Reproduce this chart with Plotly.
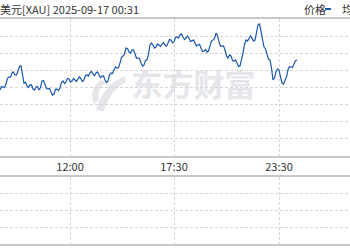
import plotly.graph_objects as go

W, H = 350, 250

# price series (USD/oz), one sample per step
prices = [
    3658.5, 3660.6, 3660.3, 3660.0, 3662.0, 3665.3, 3666.1, 3666.1, 3668.5, 3669.1,
    3667.3, 3667.3, 3669.6, 3672.3, 3672.6, 3666.0, 3662.6, 3663.0, 3660.9, 3660.0,
    3661.5, 3661.5, 3659.1, 3658.5, 3660.3, 3660.6, 3658.5, 3660.0, 3663.8, 3664.1,
    3662.0, 3659.4, 3659.1, 3659.5, 3657.4, 3655.6, 3656.2, 3658.9, 3659.1, 3658.2,
    3659.7, 3663.0, 3663.8, 3662.3, 3663.2, 3665.3, 3665.0, 3663.2, 3663.8, 3665.3,
    3664.4, 3663.5, 3665.0, 3666.2, 3665.0, 3663.5, 3664.4, 3667.1, 3667.3, 3666.7,
    3668.5, 3669.4, 3667.9, 3667.0, 3668.5, 3669.1, 3667.3, 3665.8, 3666.7, 3666.8,
    3664.4, 3662.9, 3663.8, 3667.4, 3668.5, 3668.2, 3670.2, 3672.0, 3671.4, 3671.7,
    3674.3, 3677.6, 3678.4, 3679.6, 3683.1, 3682.8, 3680.7, 3680.1, 3681.9, 3682.0,
    3679.6, 3677.2, 3677.2, 3677.0, 3674.3, 3672.5, 3673.1, 3675.8, 3676.1, 3679.3,
    3684.8, 3686.0, 3684.8, 3683.0, 3683.6, 3685.4, 3684.8, 3683.9, 3685.4, 3686.3,
    3684.8, 3684.2, 3686.0, 3688.0, 3687.7, 3686.0, 3686.6, 3689.2, 3689.5, 3688.9,
    3690.7, 3691.3, 3689.5, 3688.0, 3688.9, 3690.1, 3688.9, 3686.9, 3687.2, 3687.8,
    3686.0, 3684.2, 3684.8, 3685.2, 3683.1, 3681.0, 3681.3, 3682.2, 3680.7, 3681.3,
    3684.2, 3687.2, 3687.7, 3688.6, 3691.8, 3690.4, 3686.6, 3684.2, 3684.2, 3684.3,
    3681.9, 3678.4, 3677.2, 3679.0, 3678.4, 3675.8, 3675.5, 3676.1, 3674.3, 3672.3,
    3672.6, 3675.6, 3680.1, 3685.1, 3687.7, 3687.1, 3688.9, 3690.1, 3688.9, 3687.1,
    3687.7, 3693.3, 3696.5, 3697.3, 3692.4, 3686.8, 3683.6, 3682.5, 3679.0, 3676.4,
    3676.1, 3671.5, 3664.4, 3665.6, 3669.1, 3670.9, 3670.2, 3665.2, 3662.6, 3662.0,
    3664.4, 3666.1, 3670.2, 3672.3, 3672.0, 3671.7, 3673.7, 3675.6, 3676.1,
]
idx = list(range(len(prices)))

# time axis (sample index)
tick_pos = [46.7, 116, 186]
tick_text = ["12:00", "17:30", "23:30"]
x_range = [0, W / 1.5]

# price axis grid
y_min, y_max, y_step = 3620, 3700, 10

# volume panel (empty in the picture)
vol_x = []
vol_y = []
vol_range = [0, 4]

title_text = "美元[XAU] 2025-09-17 00:31"
legend_text = "价格"
legend_next = "均价"
watermark = "东方财富"

LINE = "#1a58ad"
GRID = "#d6d6d6"
BORDER = "#c8c8c8"
TXT = "#333333"
FONT = "Noto Sans CJK SC"


def px(x):
    return x / W


def py(y):
    return 1 - y / H


fig = go.Figure()
fig.add_trace(go.Scatter(x=idx, y=prices, mode="lines",
                         line=dict(color=LINE, width=1.2),
                         xaxis="x", yaxis="y", hoverinfo="skip", showlegend=False))
fig.add_trace(go.Bar(x=vol_x, y=vol_y, xaxis="x2", yaxis="y2",
                     marker_color=LINE, showlegend=False))

common_x = dict(range=x_range, tickvals=tick_pos, showgrid=True, gridcolor=GRID,
                gridwidth=1, griddash="3px,2px", showline=True, mirror=True,
                linecolor=BORDER, linewidth=2, ticks="", zeroline=False,
                fixedrange=True)

fig.update_layout(
    width=W, height=H,
    margin=dict(l=0, r=0, t=0, b=0),
    paper_bgcolor="white", plot_bgcolor="white",
    xaxis=dict(domain=[0, 1], anchor="y", ticktext=tick_text,
               tickfont=dict(family=FONT, size=11, color=TXT), **common_x),
    yaxis=dict(domain=[py(156), py(19)], anchor="x", range=[y_min, y_max],
               tick0=y_min, dtick=y_step, showgrid=True, gridcolor=GRID,
               griddash="3px,2px", showticklabels=False, zeroline=False,
               showline=False, fixedrange=True),
    xaxis2=dict(domain=[0, 1], anchor="y2", showticklabels=False, **common_x),
    yaxis2=dict(domain=[py(244), py(177)], anchor="x2", range=vol_range,
                tick0=0, dtick=1, showgrid=True, gridcolor=GRID,
                griddash="3px,2px", showticklabels=False, zeroline=False,
                showline=False, fixedrange=True),
    showlegend=False,
)

# watermark text (below traces)
fig.add_shape(type="rect", xref="paper", yref="paper",
              x0=px(126), x1=px(261), y0=py(104), y1=py(70),
              line=dict(width=0), fillcolor="rgba(0,0,0,0)", layer="below",
              label=dict(text=watermark, textposition="middle center",
                         font=dict(family=FONT, size=31, color="#e5e6ea",
                                   weight="bold")))


# watermark logo
def pth(cmds):
    out = []
    for c in cmds:
        if isinstance(c, str):
            out.append(c)
        else:
            out.append(f"{px(c[0]):.4f},{py(c[1]):.4f}")
    return " ".join(out)


logo1 = pth(["M", (125, 76), "Q", (104, 84), (96, 110), "L", (104, 111),
             "Q", (110, 90), (126, 82), "Z"])
logo2 = pth(["M", (101, 80), "Q", (88, 90), (94, 104), "L", (99, 100),
             "Q", (96, 90), (106, 82), "Z"])
for p in (logo1, logo2):
    fig.add_shape(type="path", xref="paper", yref="paper", path=p,
                  line=dict(width=0), fillcolor="#e5e6ea", layer="below")

# header texts
fig.add_annotation(x=px(-2), y=py(9), xref="paper", yref="paper",
                   xanchor="left", yanchor="middle", showarrow=False,
                   text=title_text, font=dict(family=FONT, size=11, color=TXT))
fig.add_annotation(x=px(302), y=py(9), xref="paper", yref="paper",
                   xanchor="left", yanchor="middle", showarrow=False,
                   text=legend_text, font=dict(family=FONT, size=11, color=TXT))
fig.add_shape(type="line", xref="paper", yref="paper",
              x0=px(325), x1=px(331), y0=py(9), y1=py(9),
              line=dict(color=LINE, width=2))
fig.add_annotation(x=px(340), y=py(9), xref="paper", yref="paper",
                   xanchor="left", yanchor="middle", showarrow=False,
                   text=legend_next, font=dict(family=FONT, size=11, color=TXT))

fig.write_html("out.html")
